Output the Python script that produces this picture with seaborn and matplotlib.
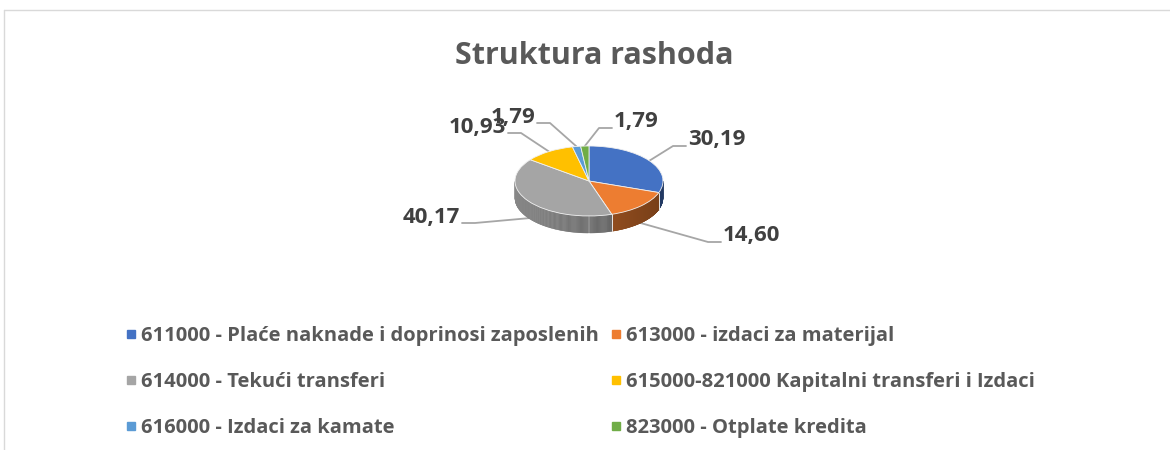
import numpy as np
import pandas as pd
import matplotlib
matplotlib.use('Agg')
import matplotlib.pyplot as plt
from matplotlib.lines import Line2D
from matplotlib.collections import PolyCollection
from matplotlib.colors import to_rgb
import seaborn as sns

# =============================================================================
# Data
# =============================================================================
categories = ['611000 - Plaće naknade i doprinosi zaposlenih',
              '613000 - izdaci za materijal',
              '614000 - Tekući transferi',
              '615000-821000 Kapitalni transferi i Izdaci',
              '616000 - Izdaci za kamate',
              '823000 - Otplate kredita']
values = [30.19, 14.60, 40.17, 10.93, 1.79, 1.79]
value_labels = ['30,19', '14,60', '40,17', '10,93', '1,79', '1,79']
colors = ['#4472C4', '#ED7D31', '#A5A5A5', '#FFC000', '#5B9BD5', '#70AD47']

df = pd.DataFrame({'kategorija': categories, 'iznos': values,
                   'oznaka': value_labels, 'boja': colors})

# =============================================================================
# Layout (pixels, y going down)
# =============================================================================
W, H = 1170, 450
cx, cy = 589, 181
rx, ry = 74, 35
depth = 17
pw, ph = 300, 160
# end of each leader line, next to the value label
label_end = [(686, 146), (721, 242), (462, 223), (508, 133), (537, 123), (612, 128)]

sns.set_theme(style='white')
plt.rcParams['font.family'] = ['Open Sans', 'DejaVu Sans']

fig = plt.figure(figsize=(W / 100, H / 100), dpi=100)
bg = fig.add_axes([0, 0, 1, 1], zorder=0)
bg.set_xlim(0, W)
bg.set_ylim(H, 0)
bg.axis('off')

# chart area border
bg.plot([4, W], [10, 10], color='#d9d9d9', lw=1)
bg.plot([4, 4], [10, H], color='#d9d9d9', lw=1)

ax = fig.add_axes([(cx - pw / 2) / W, (H - cy - ph / 2) / H, pw / W, ph / H],
                  zorder=1)
wedges, _ = ax.pie(df.iznos, colors=df.boja, startangle=90, counterclock=False,
                   radius=1, wedgeprops=dict(edgecolor='#f0f0f0', linewidth=0.6))
ax.set_aspect('auto')
ax.set_xlim(-pw / 2 / rx, pw / 2 / rx)
ax.set_ylim(-ph / 2 / ry, ph / 2 / ry)
d = depth / ry

# side of the 3d pie
polys, fcs = [], []
for w, c in zip(wedges, df.boja):
    ts = np.radians(np.linspace(w.theta1, w.theta2, 200))
    base = np.array(to_rgb(c))
    for t0, t1 in zip(ts[:-1], ts[1:]):
        if np.sin(t0) < 0 and np.sin(t1) < 0:
            x0, x1 = np.cos(t0), np.cos(t1)
            y0, y1 = np.sin(t0), np.sin(t1)
            polys.append([(x0, y0), (x1, y1), (x1, y1 - d), (x0, y0 - d)])
            f = 0.66 - 0.16 * np.cos((t0 + t1) / 2)
            fcs.append(np.clip(base * f, 0, 1))
ax.add_collection(PolyCollection(polys, facecolors=fcs, edgecolors=fcs,
                                 linewidths=0.3, zorder=0.5))
for w in wedges:
    for th in (w.theta1, w.theta2):
        t = np.radians(th)
        if np.sin(t) < -0.05:
            ax.plot([np.cos(t)] * 2, [np.sin(t), np.sin(t) - d],
                    color='#e6e6e6', lw=0.6, zorder=0.6)

# value labels with leader lines
to_bg = bg.transData.inverted()
for w, lab, (xe, ye) in zip(wedges, df.oznaka, label_end):
    m = np.radians((w.theta1 + w.theta2) / 2)
    px, py = np.cos(m), np.sin(m)
    if py < 0:
        py -= d
    ax_pt = to_bg.transform(ax.transData.transform((px, py)))
    right = xe > ax_pt[0]
    xm = xe - 13 if right else xe + 13
    bg.plot([ax_pt[0], xm, xe], [ax_pt[1], ye, ye], color='#a6a6a6', lw=1.3,
            zorder=2)
    bg.text(xe + 2 if right else xe - 2, ye - 6, lab,
            ha='left' if right else 'right', va='center', fontsize=16,
            weight='bold', color='#404040', zorder=3)

fig.text(594 / W, 1 - 56 / H, 'Struktura rashoda', ha='center', va='center',
         fontsize=22, weight='bold', color='#595959')

handles = [Line2D([], [], ls='', marker='s', markersize=6, color=c)
           for c in df.boja]
order = [0, 2, 4, 1, 3, 5]
fig.legend([handles[i] for i in order], [df.kategorija[i] for i in order],
           ncol=2, loc='upper left', bbox_to_anchor=(116 / W, 1 - 316 / H),
           frameon=False, prop={'weight': 'bold', 'size': 14.5},
           labelcolor='#595959', labelspacing=1.28, handlelength=0.5,
           handletextpad=0.25, columnspacing=0.6, borderpad=0)

fig.savefig('out.png', dpi=100, facecolor='white')
